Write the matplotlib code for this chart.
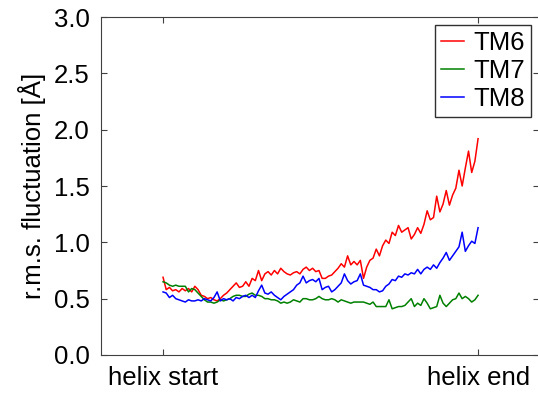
import numpy as np
import matplotlib.pyplot as plt

plt.rcParams['font.family'] = ['Liberation Sans', 'DejaVu Sans']

# per-residue r.m.s. fluctuation along each helix
tm6 = [0.69, 0.58, 0.60, 0.57, 0.58, 0.56, 0.59, 0.57, 0.59, 0.56,
       0.61, 0.58, 0.53, 0.52, 0.50, 0.51, 0.49, 0.48, 0.50, 0.53,
       0.55, 0.58, 0.61, 0.64, 0.60, 0.61, 0.65, 0.61, 0.68, 0.66,
       0.75, 0.66, 0.72, 0.74, 0.71, 0.75, 0.72, 0.77, 0.74, 0.72,
       0.71, 0.73, 0.74, 0.72, 0.76, 0.78, 0.75, 0.77, 0.74, 0.75,
       0.68, 0.68, 0.70, 0.71, 0.74, 0.77, 0.81, 0.78, 0.88, 0.80,
       0.83, 0.80, 0.84, 0.68, 0.78, 0.84, 0.86, 0.94, 0.88, 0.97,
       1.02, 0.99, 1.09, 1.06, 1.15, 1.09, 1.11, 1.13, 1.03, 1.07,
       1.13, 1.08, 1.16, 1.28, 1.20, 1.22, 1.41, 1.27, 1.34, 1.46,
       1.33, 1.42, 1.48, 1.64, 1.50, 1.66, 1.81, 1.62, 1.72, 1.92]
tm7 = [0.65, 0.64, 0.62, 0.61, 0.62, 0.61, 0.61, 0.61, 0.56, 0.59,
       0.58, 0.55, 0.52, 0.49, 0.47, 0.47, 0.46, 0.47, 0.49, 0.48,
       0.49, 0.50, 0.52, 0.53, 0.53, 0.52, 0.52, 0.54, 0.55, 0.53,
       0.53, 0.52, 0.50, 0.50, 0.49, 0.49, 0.48, 0.46, 0.47, 0.46,
       0.47, 0.49, 0.48, 0.47, 0.50, 0.50, 0.49, 0.49, 0.50, 0.52,
       0.50, 0.49, 0.49, 0.50, 0.49, 0.47, 0.49, 0.48, 0.47, 0.46,
       0.47, 0.47, 0.47, 0.47, 0.46, 0.45, 0.47, 0.43, 0.43, 0.43,
       0.43, 0.49, 0.41, 0.42, 0.43, 0.43, 0.44, 0.47, 0.50, 0.43,
       0.46, 0.44, 0.50, 0.46, 0.41, 0.42, 0.43, 0.53, 0.46, 0.43,
       0.46, 0.49, 0.50, 0.55, 0.50, 0.52, 0.50, 0.47, 0.49, 0.53]
tm8 = [0.56, 0.55, 0.51, 0.53, 0.50, 0.49, 0.48, 0.47, 0.49, 0.48,
       0.48, 0.49, 0.48, 0.50, 0.49, 0.48, 0.51, 0.56, 0.48, 0.50,
       0.49, 0.50, 0.48, 0.51, 0.50, 0.52, 0.53, 0.51, 0.53, 0.51,
       0.57, 0.62, 0.55, 0.54, 0.56, 0.53, 0.51, 0.49, 0.52, 0.54,
       0.56, 0.58, 0.62, 0.64, 0.70, 0.64, 0.66, 0.67, 0.65, 0.68,
       0.58, 0.60, 0.61, 0.56, 0.58, 0.61, 0.64, 0.72, 0.66, 0.63,
       0.65, 0.66, 0.72, 0.62, 0.61, 0.60, 0.58, 0.58, 0.56, 0.57,
       0.61, 0.63, 0.67, 0.66, 0.70, 0.69, 0.72, 0.71, 0.73, 0.72,
       0.76, 0.72, 0.76, 0.78, 0.76, 0.80, 0.77, 0.82, 0.86, 0.91,
       0.84, 0.88, 0.92, 0.96, 1.09, 0.92, 0.97, 1.01, 0.99, 1.13]

labels = ['TM6', 'TM7', 'TM8']
colors = ['r', 'g', 'b']
xtick_labels = ['helix start', 'helix end']

n = len(tm6)
x = np.arange(n)
fs = 18.5

fig = plt.figure(figsize=(5.38, 3.93), dpi=100)
# right spine sits just past the figure edge, as in the original crop
ax = fig.add_axes([0.1877, 0.0967, 0.8145, 0.8600])

for y, lab, c in zip([tm6, tm7, tm8], labels, colors):
    ax.plot(x, y, color=c, lw=1.1, label=lab)

ax.set_xlim(-0.197 * (n - 1), 1.194 * (n - 1))
ax.set_ylim(0, 3.0)
ax.set_xticks([0, n - 1])
ax.set_xticklabels(xtick_labels)
yt = np.arange(0, 3.01, 0.5)
ax.set_yticks(yt)
ax.set_yticklabels(['%.1f' % v for v in yt])
ax.tick_params(direction='in', top=True, right=True, length=4,
               labelsize=fs, pad=8, color='#404040')
ax.set_ylabel('r.m.s. fluctuation [Å]', fontsize=fs, labelpad=6)
for s in ax.spines.values():
    s.set_color('#404040')

leg = ax.legend(loc='upper right', fontsize=fs, fancybox=False,
                framealpha=1, edgecolor='#303030', handlelength=0.9,
                borderaxespad=0.3, labelspacing=0.15, borderpad=0.25,
                handletextpad=0.35)
leg.get_frame().set_linewidth(1.0)

fig.savefig('out.png', dpi=100)
